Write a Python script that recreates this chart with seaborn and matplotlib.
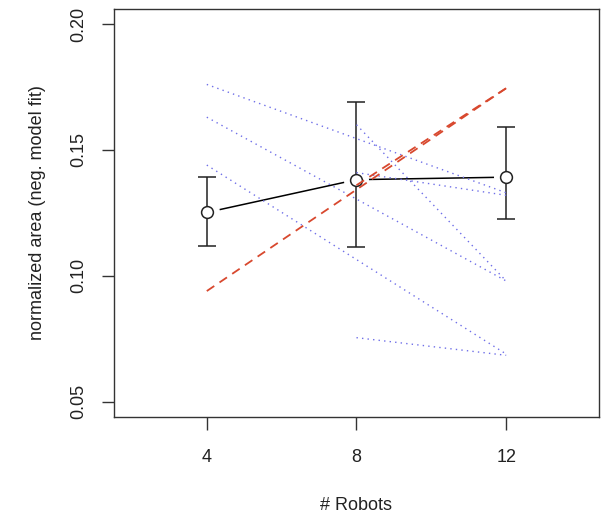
import numpy as np
import pandas as pd
import matplotlib.pyplot as plt
import seaborn as sns

# mean area per team size, with error bar ends
robots = [4, 8, 12]
mean_area = [0.1252, 0.1382, 0.1392]
err_low = [0.1118, 0.1114, 0.1226]
err_high = [0.1393, 0.1690, 0.1590]

# single runs (blue dotted)
run_id = ['a', 'a', 'b', 'b', 'c', 'c', 'd', 'd', 'e', 'e', 'f', 'f']
run_robots = [4, 12, 4, 12, 4, 12, 8, 12, 8, 12, 8, 12]
run_area = [0.176, 0.133, 0.163, 0.098, 0.144, 0.069,
            0.160, 0.098, 0.0755, 0.0685, 0.141, 0.132]

# fits (red dashed)
fit_id = ['all', 'all', 'late', 'late']
fit_robots = [4, 12, 8, 12]
fit_area = [0.094, 0.1745, 0.1360, 0.1745]

sns.set_theme(style='ticks')
plt.rcParams['font.family'] = ['Liberation Sans', 'DejaVu Sans']

runs_df = pd.DataFrame({'run': run_id, 'robots': run_robots, 'area': run_area})
fits_df = pd.DataFrame({'fit': fit_id, 'robots': fit_robots, 'area': fit_area})
mean_df = pd.DataFrame({'robots': robots, 'area': mean_area})

fig = plt.figure(figsize=(6.04, 5.2), dpi=100)
ax = fig.add_axes([0.1887, 0.198, 0.803, 0.785])

# black mean line, gaps around points like R type="b"
sns.lineplot(data=mean_df, x='robots', y='area', color='black', lw=1.1, ax=ax, zorder=1)
ax.plot(robots, mean_area, 'o', ms=17, mfc='white', mec='white', zorder=2)

yerr = [np.array(mean_area) - np.array(err_low), np.array(err_high) - np.array(mean_area)]
ax.errorbar(robots, mean_area, yerr=yerr, fmt='none', ecolor='#222222', elinewidth=1.1,
            capsize=6.5, capthick=1.1, zorder=3)
ax.plot(robots, mean_area, 'o', ms=8.5, mfc='white', mec='#222222', mew=1.1, zorder=4)

sns.lineplot(data=runs_df, x='robots', y='area', units='run', estimator=None,
             color='#6f6fe8', lw=1.0, linestyle=(0, (1, 3)), ax=ax, zorder=5)
sns.lineplot(data=fits_df, x='robots', y='area', units='fit', estimator=None,
             color='#d8482e', lw=1.3, linestyle=(0, (5, 3.5)), ax=ax, zorder=6)

ax.set_xlim(1.52, 14.48)
ax.set_ylim(0.044, 0.206)
ax.set_xticks(robots)
ax.set_xticklabels(['4', '8', '12'])
ax.set_yticks([0.05, 0.10, 0.15, 0.20])
ax.set_yticklabels(['0.05', '0.10', '0.15', '0.20'])
ax.tick_params(axis='both', length=9, width=1, color='#333333', labelsize=13, labelcolor='#222222')
ax.tick_params(axis='x', pad=14)
ax.tick_params(axis='y', pad=10)
for lab in ax.get_yticklabels():
    lab.set_rotation(90)
    lab.set_va('center')

for sp in ax.spines.values():
    sp.set_visible(True)
    sp.set_color('#333333')
    sp.set_linewidth(1.0)

ax.set_xlabel('# Robots', fontsize=13, color='#222222', labelpad=22)
ax.set_ylabel('normalized area (neg. model fit)', fontsize=13, color='#222222', labelpad=18)

fig.savefig('out.png', dpi=100)
